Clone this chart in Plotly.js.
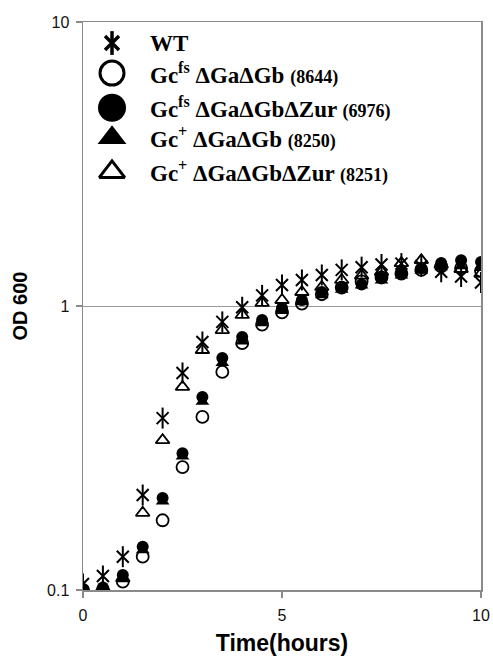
<!DOCTYPE html>
<html>
<head>
<meta charset="utf-8">
<script src="https://cdn.plot.ly/plotly-3.0.1.min.js"></script>
<style>html,body{margin:0;padding:0;background:#fff;}#chart{width:493px;height:657px;}</style>
</head>
<body>
<div id="chart"></div>
<script>
// Time (hours)
var timeH = [0, 0.5, 1, 1.5, 2, 2.5, 3, 3.5, 4, 4.5, 5, 5.5, 6, 6.5, 7, 7.5, 8, 8.5, 9, 9.5, 10];
// OD600 per strain
var wt      = [0.105, 0.112, 0.131, 0.216, 0.403, 0.581, 0.747, 0.879, 0.99, 1.09, 1.186, 1.235, 1.286, 1.34, 1.37, 1.40, 1.41, 1.38, 1.32, 1.27, 1.21];
var s8644   = [0.100, 0.100, 0.107, 0.131, 0.176, 0.271, 0.407, 0.586, 0.74, 0.86, 0.95, 1.02, 1.10, 1.16, 1.22, 1.26, 1.30, 1.34, 1.38, 1.36, 1.33];
var s6976   = [0.100, 0.102, 0.113, 0.142, 0.211, 0.303, 0.478, 0.656, 0.778, 0.893, 0.984, 1.05, 1.12, 1.167, 1.19, 1.255, 1.306, 1.36, 1.416, 1.45, 1.43];
var s8250   = [0.100, 0.100, 0.110, 0.138, 0.205, 0.295, 0.46, 0.63, 0.75, 0.87, 0.96, 1.03, 1.09, 1.14, 1.18, 1.23, 1.28, 1.33, 1.37, 1.38, 1.36];
var s8251   = [0.100, 0.102, 0.110, 0.187, 0.337, 0.519, 0.70, 0.823, 0.93, 1.025, 1.05, 1.12, 1.167, 1.235, 1.28, 1.32, 1.416, 1.45, 1.40, 1.35, 1.30];
// Tick labels
var yTickVals = [0.1, 1, 10];
var yTickText = ['0.1', '1', '10'];
var xTickVals = [0, 5, 10];
// Legend labels
var legendLabels = [
  'WT',
  'Gc<sup>fs</sup> ΔGaΔGb <span style="font-size:18px">(8644)</span>',
  'Gc<sup>fs</sup> ΔGaΔGbΔZur <span style="font-size:18px">(6976)</span>',
  'Gc<sup>+</sup> ΔGaΔGb <span style="font-size:18px">(8250)</span>',
  'Gc<sup>+</sup> ΔGaΔGbΔZur <span style="font-size:18px">(8251)</span>'
];

var K = '#000';
function tr(y, sym, size, lw) {
  return {x: timeH, y: y, type: 'scatter', mode: 'markers', showlegend: false, hoverinfo: 'skip',
    marker: {symbol: sym, size: size, color: K, line: {color: K, width: lw}}};
}
var data = [
  tr(s8644, 'circle-open', 12, 1.8),
  tr(s8250, 'triangle-up', 12, 0),
  tr(s6976, 'circle', 12, 0),
  tr(s8251, 'triangle-up-open', 12, 1.8),
  tr(wt, 'x-thin-open', 12, 2),
  tr(wt, 'line-ns-open', 15, 2)
];

// Legend (manual, drawn on an overlay axis in plot-fraction units)
var lx = 0.0729, tx = 0.163;
var ly = [0.963, 0.910, 0.849, 0.796, 0.736];
function lg(i, sym, size, lw) {
  return {x: [lx], y: [ly[i]], xaxis: 'x2', yaxis: 'y2', type: 'scatter', mode: 'markers', showlegend: false, hoverinfo: 'skip',
    marker: {symbol: sym, size: size, color: K, line: {color: K, width: lw}}};
}
data.push(lg(0, 'x-thin-open', 14, 3.5));
data.push(lg(0, 'line-ns-open', 17, 3.5));
data.push(lg(1, 'circle-open', 24, 3));
data.push(lg(2, 'circle', 28, 0));
data.push(lg(3, 'triangle-up', 25, 0));
data.push(lg(4, 'triangle-up-open', 22, 3));

var annotations = legendLabels.map(function (t, i) {
  return {xref: 'x2', yref: 'y2', x: tx, y: ly[i], text: '<b>' + t + '</b>', showarrow: false,
    xanchor: 'left', yanchor: 'middle',
    font: {family: 'Liberation Serif, Times New Roman, serif', size: 23, color: '#000'}};
});

var axisGray = '#8a8a8a';
var layout = {
  width: 493, height: 657,
  margin: {l: 83, r: 12, t: 22, b: 67},
  paper_bgcolor: '#fff', plot_bgcolor: '#fff',
  showlegend: false,
  xaxis: {
    range: [0, 10], tickvals: xTickVals, ticks: 'outside', ticklen: 6, tickcolor: axisGray, tickwidth: 1.5,
    ticklabelstandoff: 4,
    showline: true, linecolor: axisGray, linewidth: 1.5, mirror: true, showgrid: false, zeroline: false,
    tickfont: {family: 'Liberation Sans, Arial, sans-serif', size: 16, color: '#111'},
    title: {text: '<b>Time(hours)</b>', standoff: 12, font: {family: 'Liberation Sans, Arial, sans-serif', size: 23, color: '#000'}}
  },
  yaxis: {
    type: 'log', range: [-1, 1], tickvals: yTickVals, ticktext: yTickText, ticks: 'outside', ticklen: 6,
    tickcolor: axisGray, tickwidth: 1.5, ticklabelstandoff: 3,
    showline: true, linecolor: axisGray, linewidth: 1.5, mirror: true,
    showgrid: true, gridcolor: '#999', gridwidth: 1, zeroline: false,
    tickfont: {family: 'Liberation Sans, Arial, sans-serif', size: 16, color: '#111'},
    title: {text: '<b>OD 600</b>', standoff: 14, font: {family: 'Liberation Sans, Arial, sans-serif', size: 20, color: '#000'}}
  },
  xaxis2: {overlaying: 'x', anchor: 'y2', range: [0, 1], visible: false, fixedrange: true},
  yaxis2: {overlaying: 'y', anchor: 'x2', range: [0, 1], visible: false, fixedrange: true},
  annotations: annotations
};

Plotly.newPlot('chart', data, layout, {staticPlot: true, displayModeBar: false});
</script>
</body>
</html>
